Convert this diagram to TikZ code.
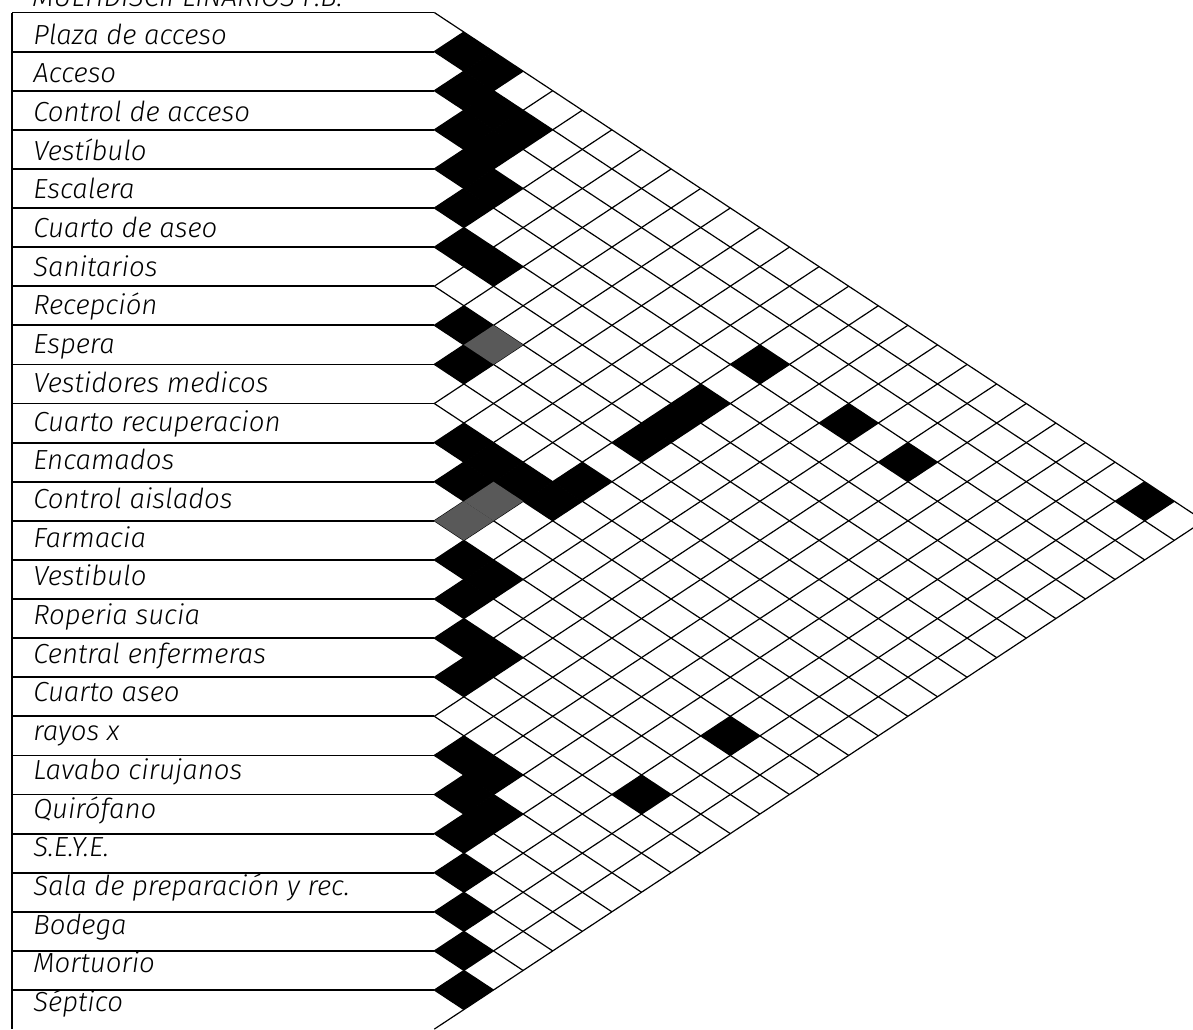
\documentclass[tikz,border=0pt]{standalone}
\usepackage{fontspec}
\newfontfamily\lblfont{Fira Sans Light Italic}
\begin{document}
\begin{tikzpicture}[x=0.5pt, y=-0.5pt]
% Styles
\tikzstyle{rowlabel} = [anchor=base west, inner sep=0pt, font=\lblfont\fontsize{13.8}{16}\selectfont]
\tikzstyle{rowline} = [line width=0.9pt]
\tikzstyle{lattice} = [line width=0.6pt]
\tikzstyle{full} = [fill=black]
\tikzstyle{half} = [fill=black!65]

\useasboundingbox (0,0) rectangle (1193,1029);
\clip (0,0) rectangle (1193,1029);

% Title
\node [rowlabel] (titulo) at (32,6) {MULTIDISCIPLINARIOS P.B.};

% Row lines and lattice
\draw [rowline] (12.3,12.5) -- (12.3,1029.1);
\foreach \k in {0,...,25}
  \draw [rowline] (12.3,{12.5+39.1*\k}) -- (434.3,{12.5+39.1*\k});
\foreach \k in {0,...,26} {
  \draw [lattice] (434.3,{12.5+39.1*\k}) -- ++({29.6*(26-\k)},{19.55*(26-\k)});
  \draw [lattice] (434.3,{12.5+39.1*\k}) -- ++({29.6*\k},{-19.55*\k});
}

% Relations
\foreach \i/\j in {0/1,0/2,1/2,1/3,2/3,1/4,2/4,3/4,3/5,4/5,5/6,5/7,
    7/8,8/9,3/14,5/14,6/14,7/14,3/17,3/19,0/24,
    10/11,10/12,10/13,10/14,9/14,11/12,
    13/14,13/15,14/15,15/16,15/17,16/17,13/23,16/23,
    18/19,18/20,19/20,19/21,20/21,21/22,22/23,23/24,24/25}
  \fill [full] ({434.3+29.6*(\j-\i)-29.6},{32.05+19.55*(\i+\j)}) -- ++(29.6,-19.55) -- ++(29.6,19.55) -- ++(-29.6,19.55) -- cycle;
\foreach \i/\j in {7/9,11/13,12/13}
  \fill [half] ({434.3+29.6*(\j-\i)-29.6},{32.05+19.55*(\i+\j)}) -- ++(29.6,-19.55) -- ++(29.6,19.55) -- ++(-29.6,19.55) -- cycle;

% Names
\node [rowlabel] (plaza) at (33,44) {Plaza de acceso};
\node [rowlabel] (acceso) at (33,82.7) {Acceso};
\node [rowlabel] (control) at (33,121.4) {Control de acceso};
\node [rowlabel] (vestibulo) at (33,160.1) {Vestíbulo};
\node [rowlabel] (escalera) at (33,198.8) {Escalera};
\node [rowlabel] (aseo) at (33,237.5) {Cuarto de aseo};
\node [rowlabel] (sanitarios) at (33,276.2) {Sanitarios};
\node [rowlabel] (recepcion) at (33,314.9) {Recepción};
\node [rowlabel] (espera) at (33,353.6) {Espera};
\node [rowlabel] (vestidores) at (33,392.3) {Vestidores medicos};
\node [rowlabel] (recuperacion) at (33,431) {Cuarto recuperacion};
\node [rowlabel] (encamados) at (33,469.7) {Encamados};
\node [rowlabel] (aislados) at (33,508.4) {Control aislados};
\node [rowlabel] (farmacia) at (33,547.1) {Farmacia};
\node [rowlabel] (vestibulob) at (33,585.8) {Vestibulo};
\node [rowlabel] (roperia) at (33,624.5) {Roperia sucia};
\node [rowlabel] (enfermeras) at (33,663.2) {Central enfermeras};
\node [rowlabel] (aseob) at (33,701.9) {Cuarto aseo};
\node [rowlabel] (rayos) at (33,740.6) {rayos x};
\node [rowlabel] (lavabo) at (33,779.3) {Lavabo cirujanos};
\node [rowlabel] (quirofano) at (33,818) {Quirófano};
\node [rowlabel] (seye) at (33,856.7) {S.E.Y.E.};
\node [rowlabel] (preparacion) at (33,895.4) {Sala de preparación y rec.};
\node [rowlabel] (bodega) at (33,934.1) {Bodega};
\node [rowlabel] (mortuorio) at (33,972.8) {Mortuorio};
\node [rowlabel] (septico) at (33,1011.5) {Séptico};
\end{tikzpicture}
\end{document}
